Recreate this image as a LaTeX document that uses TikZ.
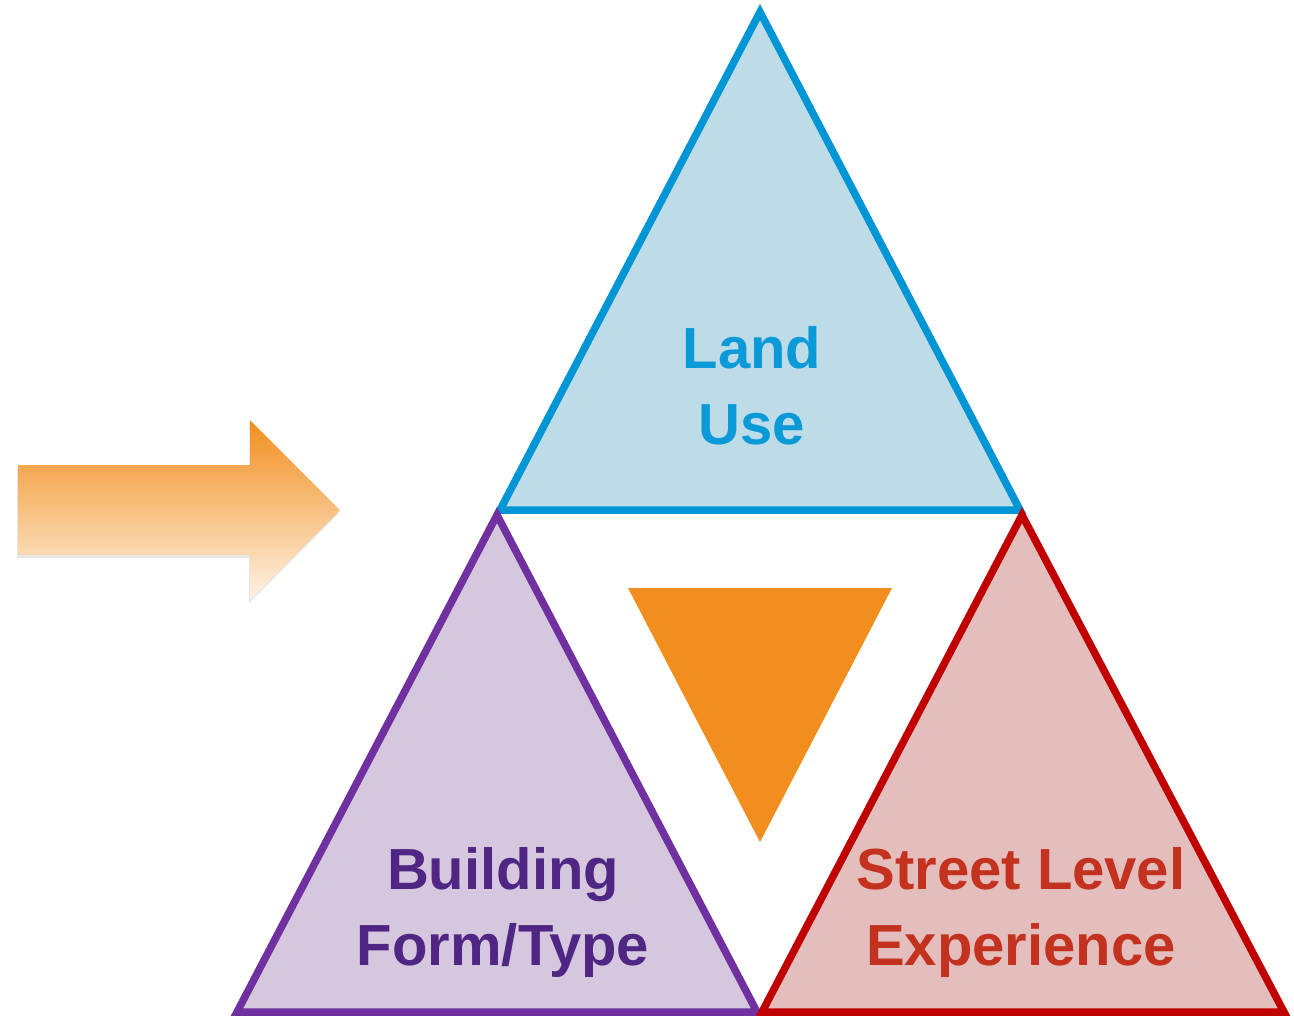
\documentclass[tikz,border=0pt]{standalone}
\usepackage{fontspec}
\setmainfont{Liberation Sans}
\usetikzlibrary{shadows}
\definecolor{landLine}{RGB}{0,150,214}
\definecolor{landFill}{RGB}{190,219,232}
\definecolor{landText}{RGB}{10,154,216}
\definecolor{formLine}{RGB}{112,48,160}
\definecolor{formFill}{RGB}{212,199,222}
\definecolor{formText}{RGB}{79,38,131}
\definecolor{streetLine}{RGB}{192,0,0}
\definecolor{streetFill}{RGB}{228,189,189}
\definecolor{streetText}{RGB}{195,49,31}
\definecolor{midOrange}{RGB}{242,142,30}
\definecolor{arrowTop}{RGB}{241,142,30}
\definecolor{arrowBottom}{RGB}{253,242,228}
\newcommand{\labelFont}[0]{\fontsize{58}{76}\selectfont\bfseries}

\begin{document}
\begin{tikzpicture}[x=1pt, y=-1pt]
  \tikzset{
    tri/.style={line width=7.5pt, line join=miter},
    lbl/.style={align=center, anchor=north, inner sep=0pt, font=\labelFont}
  }
  \useasboundingbox (0,0) rectangle (1294,1018);
  % arrow
  \shade[top color=arrowTop, bottom color=arrowBottom,
    drop shadow={shadow xshift=-1pt, shadow yshift=-3pt, opacity=0.2}]
    (18,465) -- (250,465) -- (250,420) -- (340,510) -- (250,600)
    -- (250,555) -- (18,555) -- cycle;
  % triangles
  \draw[tri, draw=landLine, fill=landFill] (760,12) -- (1020,510) -- (500,510) -- cycle;
  \draw[tri, draw=formLine, fill=formFill] (497,515) -- (757,1012) -- (237,1012) -- cycle;
  \draw[tri, draw=streetLine, fill=streetFill] (1022,515) -- (1284,1012) -- (762,1012) -- cycle;
  \fill[midOrange] (628,588) -- (892,588) -- (760,842) -- cycle;
  % labels
  \node[lbl, text=landText] (land) at (752,326) {Land\\Use};
  \node[lbl, text=formText] (form) at (503,847) {Building\\Form/Type};
  \node[lbl, text=streetText] (street) at (1021,847) {Street Level\\Experience};
\end{tikzpicture}
\end{document}
